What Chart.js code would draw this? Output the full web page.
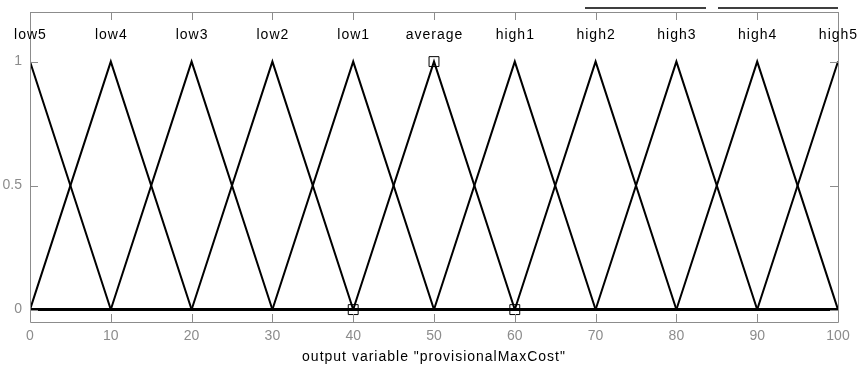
<!DOCTYPE html>
<html>
<head>
<meta charset="utf-8">
<script src="https://cdn.jsdelivr.net/npm/chart.js@4/dist/chart.umd.min.js"></script>
<style>
  html, body { margin: 0; padding: 0; background: #ffffff; }
  #wrap { width: 860px; height: 367px; }
</style>
</head>
<body>
<div id="wrap"><canvas id="c" width="860" height="367"></canvas></div>
<script>
// Membership function names and triangular parameters [a, b, c]
const mfNames = ['low5', 'low4', 'low3', 'low2', 'low1', 'average',
                 'high1', 'high2', 'high3', 'high4', 'high5'];
const mfA = [-10, 0, 10, 20, 30, 40, 50, 60, 70, 80, 90];
const mfB = [0, 10, 20, 30, 40, 50, 60, 70, 80, 90, 100];
const mfC = [10, 20, 30, 40, 50, 60, 70, 80, 90, 100, 110];

// Output range and ticks
const xRange = [0, 100];
const yRange = [-0.05, 1.2];
const xTicks = [0, 10, 20, 30, 40, 50, 60, 70, 80, 90, 100];
const yTicks = [0, 0.5, 1];

// Highlighted points
const markX = [50, 40, 60];
const markY = [1, 0, 0];

// Height at which names are written above the peaks
const nameLevel = 1.105;

const axisTitle = 'output variable "provisionalMaxCost"';

// Build polyline of each triangle clipped to the range, zero elsewhere
function triPoints(a, b, c) {
  const lo = xRange[0], hi = xRange[1];
  const mu = x => {
    if (x === b) return 1;
    if (x <= a || x >= c) return 0;
    if (x < b) return (x - a) / (b - a);
    return (c - x) / (c - b);
  };
  const xs = [...new Set([lo, a, b, c, hi].filter(x => x >= lo && x <= hi))]
    .sort((p, q) => p - q);
  return xs.map(x => ({ x: x, y: mu(x) }));
}

const datasets = mfNames.map((n, i) => ({
  label: n,
  data: triPoints(mfA[i], mfB[i], mfC[i]),
  showLine: true,
  borderColor: '#000000',
  borderWidth: 2,
  pointRadius: 0,
  tension: 0
}));

datasets.push({
  label: 'marks',
  data: markX.map((x, i) => ({ x: x, y: markY[i] })),
  showLine: false,
  pointStyle: 'rect',
  pointRadius: 7,
  pointBorderColor: '#000000',
  pointBackgroundColor: 'rgba(255,255,255,0)',
  pointBorderWidth: 1
});

const GRAY = '#8c8c8c';
const FONT = '"Liberation Sans", Arial, sans-serif';

// Frame, inward ticks, names, axis title and top strokes
const framePlugin = {
  id: 'frame',
  afterDatasetsDraw(chart) {
    const ctx = chart.ctx;
    const a = chart.chartArea;
    const xs = chart.scales.x, ys = chart.scales.y;
    ctx.save();
    ctx.strokeStyle = GRAY;
    ctx.lineWidth = 1;
    ctx.beginPath();
    ctx.rect(Math.round(a.left) + 0.5, Math.round(a.top) + 0.5,
             Math.round(a.right - a.left), Math.round(a.bottom - a.top));
    ctx.stroke();
    const tl = 8;
    ctx.beginPath();
    xTicks.forEach(v => {
      const px = Math.round(xs.getPixelForValue(v)) + 0.5;
      ctx.moveTo(px, a.bottom); ctx.lineTo(px, a.bottom - tl);
      ctx.moveTo(px, a.top); ctx.lineTo(px, a.top + tl);
    });
    yTicks.forEach(v => {
      const py = Math.round(ys.getPixelForValue(v)) + 0.5;
      ctx.moveTo(a.left, py); ctx.lineTo(a.left + tl, py);
      ctx.moveTo(a.right, py); ctx.lineTo(a.right - tl, py);
    });
    ctx.stroke();

    // names above each peak
    ctx.fillStyle = '#000000';
    ctx.font = '14px ' + FONT;
    ctx.letterSpacing = '1px';
    ctx.textAlign = 'center';
    ctx.textBaseline = 'middle';
    const ny = ys.getPixelForValue(nameLevel);
    mfNames.forEach((n, i) => {
      ctx.fillText(n, xs.getPixelForValue(mfB[i]) + 0.5, ny);
    });

    // axis title under the tick labels
    ctx.fillText(axisTitle, (a.left + a.right) / 2, a.bottom + 35);
    ctx.letterSpacing = '0px';

    // two short strokes above the frame
    ctx.strokeStyle = '#000000';
    ctx.lineWidth = 1.5;
    ctx.beginPath();
    ctx.moveTo(585, 8); ctx.lineTo(706, 8);
    ctx.moveTo(718, 8); ctx.lineTo(838, 8);
    ctx.stroke();
    ctx.restore();
  }
};

new Chart(document.getElementById('c'), {
  type: 'scatter',
  data: { datasets: datasets },
  options: {
    responsive: false,
    animation: false,
    devicePixelRatio: 1,
    layout: { padding: { left: 0, right: 22, top: 12, bottom: 0 } },
    plugins: { legend: { display: false }, tooltip: { enabled: false } },
    scales: {
      x: {
        type: 'linear',
        min: xRange[0], max: xRange[1],
        afterBuildTicks: s => { s.ticks = xTicks.map(v => ({ value: v })); },
        afterFit: s => { s.height = 45; s.paddingLeft = 0; s.paddingRight = 0; },
        grid: { display: false, drawTicks: false },
        border: { display: false },
        ticks: {
          color: GRAY, padding: 6,
          font: { family: FONT, size: 14 },
          maxRotation: 0
        }
      },
      y: {
        type: 'linear',
        min: yRange[0], max: yRange[1],
        afterBuildTicks: s => { s.ticks = yTicks.map(v => ({ value: v })); },
        afterFit: s => { s.width = 30; s.paddingTop = 0; s.paddingBottom = 0; },
        grid: { display: false, drawTicks: false },
        border: { display: false },
        ticks: {
          color: GRAY, padding: 8,
          font: { family: FONT, size: 14 },
          callback: v => String(v)
        }
      }
    }
  },
  plugins: [framePlugin]
});
</script>
</body>
</html>
